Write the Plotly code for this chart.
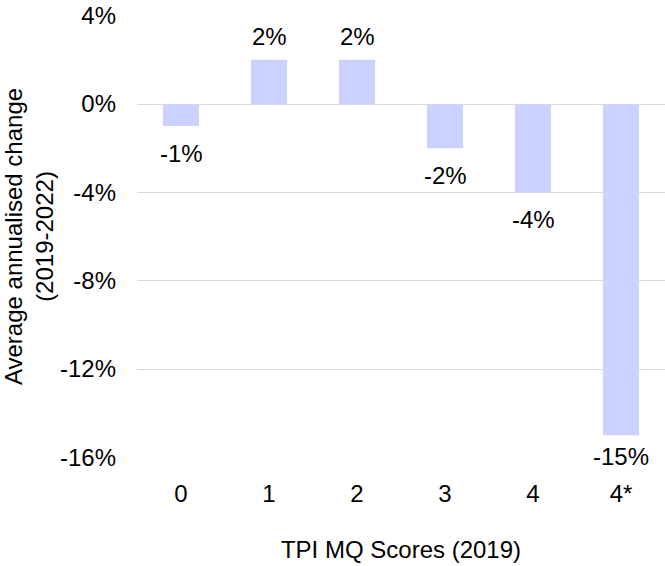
import plotly.graph_objects as go

# TPI MQ score categories and the average annualised change (%) per group
scores = ['0', '1', '2', '3', '4', '4*']
change = [-1, 2, 2, -2, -4, -15]

y_ticks = [4, 0, -4, -8, -12, -16]
y_tick_text = ['4%', '0%', '-4%', '-8%', '-12%', '-16%']

# pixel offsets of the data labels from the bar ends
label_shift = [-27, 23, 23, -27, -27, -21]

bar_colour = '#CCD2FF'
font_name = 'Liberation Sans, Arial, sans-serif'
fsize = 24

fig = go.Figure()
fig.add_trace(go.Bar(x=scores, y=change, marker_color=bar_colour,
                     marker_line_width=0, width=0.41))

for s, v, sh in zip(scores, change, label_shift):
    fig.add_annotation(x=s, y=v, text=f'{v}%', showarrow=False, yshift=sh,
                       font=dict(size=fsize, color='#000000'))

fig.update_layout(
    width=665, height=566,
    margin=dict(l=137, r=0, t=15, b=108, autoexpand=False),
    plot_bgcolor='white', paper_bgcolor='white',
    font=dict(family=font_name, size=fsize, color='#000000'),
    showlegend=False,
)
# range padded a hair so the end gridlines are still drawn
fig.update_yaxes(range=[-16.03, 4.03], tickvals=y_ticks, ticktext=y_tick_text,
                 showgrid=True, gridcolor='#D9D9D9', gridwidth=1.3,
                 zeroline=False, showline=False, ticklabelstandoff=20,
                 automargin=False, ticklabeloverflow='allow',
                 title=dict(text='Average annualised change<br>(2019-2022)',
                            standoff=8, font=dict(size=fsize)))
fig.update_xaxes(showgrid=False, showline=False, zeroline=False,
                 ticklabelstandoff=19, automargin=False,
                 title=dict(text='TPI MQ Scores (2019)', standoff=35,
                            font=dict(size=fsize)))

# drop the default 8px body margin so the figure fills the window
fig.write_html('out.html', config={'displayModeBar': False},
               post_script="document.body.style.margin='0';")
